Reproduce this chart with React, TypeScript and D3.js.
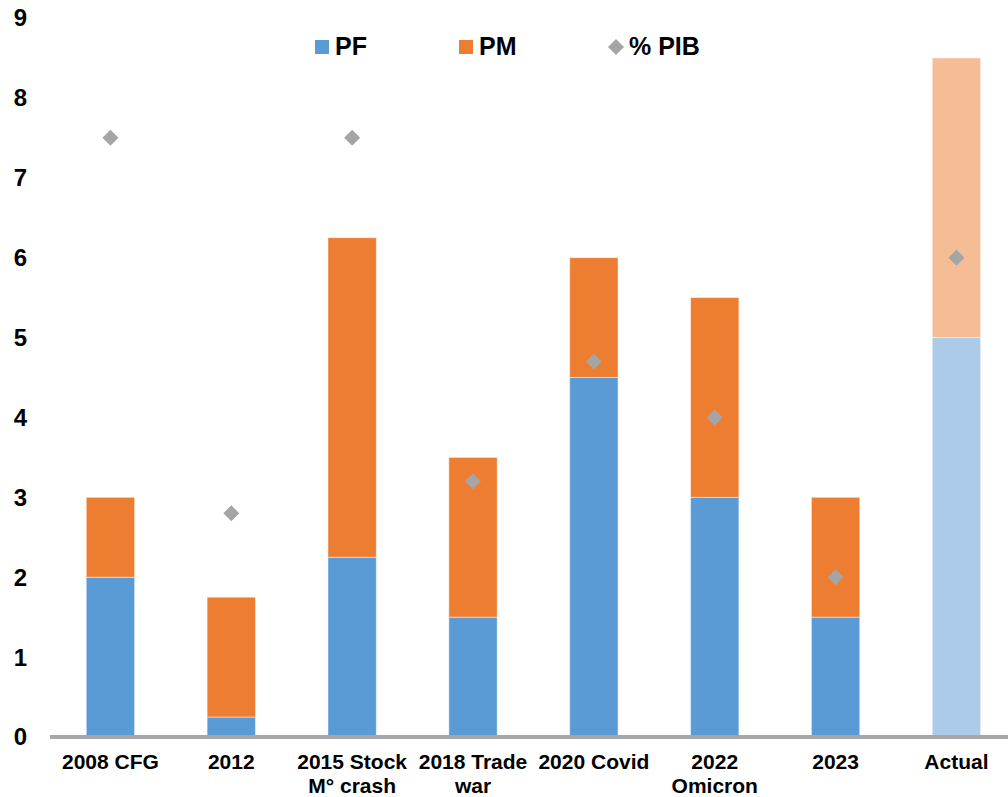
import React from "react";
import * as d3 from "d3";

const categories = ["2008 CFG", "2012", "2015 Stock M° crash", "2018 Trade war", "2020 Covid", "2022 Omicron", "2023", "Actual"];
const categoryLines = [["2008 CFG"], ["2012"], ["2015 Stock", "M° crash"], ["2018 Trade", "war"], ["2020 Covid"], ["2022", "Omicron"], ["2023"], ["Actual"]];
const pfValues = [2, 0.25, 2.25, 1.5, 4.5, 3, 1.5, 5];
const pmValues = [1, 1.5, 4, 2, 1.5, 2.5, 1.5, 3.5];
const pibValues = [7.5, 2.8, 7.5, 3.2, 4.7, 4.0, 2.0, 6.0];
const yTicks = [0, 1, 2, 3, 4, 5, 6, 7, 8, 9];
const projectedIndex = 7;

const W = 1008;
const H = 797;
const FONT = "'Liberation Sans', Arial, Helvetica, sans-serif";

const BLUE = "#5B9BD5";
const ORANGE = "#ED7D31";
const BLUE_LIGHT = "#ACCBE8";
const ORANGE_LIGHT = "#F5BD96";
const GREY = "#A5A5A5";

export default function App() {
  const x = d3
    .scaleBand<string>()
    .domain(categories)
    .range([50, 50 + 8 * 120.86])
    .paddingInner(0.6)
    .paddingOuter(0.3);
  const y = d3.scaleLinear().domain([0, 9]).range([737, 18]);
  const bw = x.bandwidth();
  const diamond = (cx: number, cy: number, r: number) =>
    `M${cx},${cy - r}L${cx + r},${cy}L${cx},${cy + r}L${cx - r},${cy}Z`;

  return (
    <svg
      width={W}
      height={H}
      style={{ position: "absolute", left: 0, top: 0, background: "#fff" }}
      fontFamily={FONT}
    >
      <rect width={W} height={H} fill="#fff" />
      {/* y tick labels */}
      {yTicks.map((t) => (
        <text
          key={t}
          x={27}
          y={y(t)}
          dy="0.35em"
          textAnchor="end"
          fontSize={24}
          fontWeight="bold"
          fill="#000"
        >
          {t}
        </text>
      ))}
      {/* stacked bars */}
      {categories.map((c, i) => {
        const x0 = x(c)!;
        const light = i === projectedIndex;
        return (
          <g key={c} stroke="#fff" strokeOpacity={0.45} strokeWidth={1}>
            <rect
              x={x0}
              y={y(pfValues[i])}
              width={bw}
              height={y(0) - y(pfValues[i])}
              fill={light ? BLUE_LIGHT : BLUE}
            />
            <rect
              x={x0}
              y={y(pfValues[i] + pmValues[i])}
              width={bw}
              height={y(pfValues[i]) - y(pfValues[i] + pmValues[i])}
              fill={light ? ORANGE_LIGHT : ORANGE}
            />
          </g>
        );
      })}
      {/* x axis line */}
      <line x1={50} x2={W} y1={y(0)} y2={y(0)} stroke="#A6A6A6" strokeWidth={4} />
      {/* % PIB markers */}
      {categories.map((c, i) => (
        <path key={c} d={diamond(x(c)! + bw / 2, y(pibValues[i]), 8)} fill={GREY} />
      ))}
      {/* category labels */}
      {categories.map((c, i) => (
        <text
          key={c}
          x={x(c)! + bw / 2}
          y={769}
          textAnchor="middle"
          fontSize={21}
          fontWeight="bold"
          fill="#000"
        >
          {categoryLines[i].map((line, j) => (
            <tspan key={j} x={x(c)! + bw / 2} dy={j === 0 ? 0 : 24}>
              {line}
            </tspan>
          ))}
        </text>
      ))}
      {/* legend */}
      <g fontSize={25} fontWeight="bold" fill="#000">
        <rect x={315} y={40} width={14} height={14} fill={BLUE} />
        <text x={335} y={55}>PF</text>
        <rect x={459} y={40} width={14} height={14} fill={ORANGE} />
        <text x={479} y={55}>PM</text>
        <path d={diamond(616, 47, 8)} fill={GREY} />
        <text x={629} y={55}>% PIB</text>
      </g>
    </svg>
  );
}
